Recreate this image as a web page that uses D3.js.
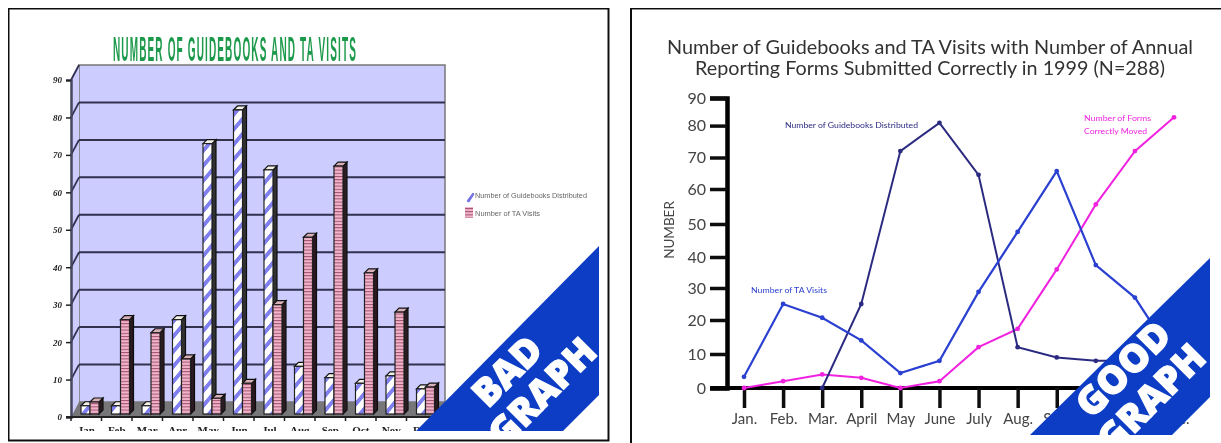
<!DOCTYPE html>
<html>
<head>
<meta charset="utf-8">
<script src="https://cdn.jsdelivr.net/npm/d3@7"></script>
<style>
  html, body { margin: 0; padding: 0; background: #fff; overflow: hidden; }
  svg { display: block; }
</style>
</head>
<body>
<div id="chart"></div>
<script>
// Data
const monthsShort = ['Jan', 'Feb', 'Mar', 'Apr', 'May', 'Jun', 'Jul', 'Aug', 'Sep', 'Oct', 'Nov', 'Dec'];
const monthsLong = ['Jan.', 'Feb.', 'Mar.', 'April', 'May', 'June', 'July', 'Aug.', 'Sep.', 'Oct.', 'Nov.', 'Dec.'];

const barGuidebooks = [3, 3, 3, 26, 73, 82, 66, 13.5, 10.5, 9, 11, 7.5];
const barVisits = [4, 26, 22.5, 15.5, 5, 9, 30, 48, 67, 38.5, 28, 8];

const lineGuidebooks = [null, null, 0, 25, 72, 81, 64.5, 12, 9, 8, 8, 8];
const lineVisits = [3.3, 25, 20.7, 14, 4.4, 8, 28.8, 47.6, 65.7, 37.4, 27, 9];
const lineForms = [0, 2, 4, 3, 0, 2, 12, 17.4, 36, 55.6, 72, 83];

const yTicks = [0, 10, 20, 30, 40, 50, 60, 70, 80, 90];

const blue = '#0a3cc4';
const navy = '#2c2a80';
const tablue = '#2a3fd0';
const magenta = '#f024e0';

const svg = d3.select('#chart').append('svg')
    .attr('width', 1221)
    .attr('height', 443);

const defs = svg.append('defs');

// The reference is a soft, upscaled image
defs.append('filter').attr('id', 'soft')
    .attr('x', 0).attr('y', 0)
    .attr('width', 1).attr('height', 1)
    .append('feGaussianBlur').attr('stdDeviation', 0.6);

const stripes = defs.append('pattern')
    .attr('id', 'stripeGuide')
    .attr('width', 6).attr('height', 15)
    .attr('patternUnits', 'userSpaceOnUse')
    .attr('patternTransform', 'skewY(-50)');
stripes.append('rect').attr('width', 6).attr('height', 15).attr('fill', '#fff');
stripes.append('rect').attr('width', 6).attr('height', 6).attr('fill', '#8080f0');

const bands = defs.append('pattern')
    .attr('id', 'stripeVisits')
    .attr('width', 6).attr('height', 3.2)
    .attr('patternUnits', 'userSpaceOnUse');
bands.append('rect').attr('width', 6).attr('height', 3.2).attr('fill', '#f0b4ca');
bands.append('rect').attr('width', 6).attr('height', 1).attr('fill', '#a0506c');

const root = svg.append('g').attr('filter', 'url(#soft)');

// Panel frames
root.append('rect')
    .attr('x', 8.5).attr('y', 8.5)
    .attr('width', 600).attr('height', 432)
    .attr('fill', '#fff').attr('stroke', '#111').attr('stroke-width', 2);
root.append('path')
    .attr('d', 'M631,443V8.5H1221')
    .attr('fill', 'none').attr('stroke', '#111').attr('stroke-width', 2);

function drawBadGraph() {
    const g = root.append('g');

    const x = d3.scaleBand().domain(monthsShort).range([71, 437]);
    const inner = d3.scaleBand().domain(['guide', 'visits']).range([10, 28]);
    const y = d3.scaleLinear().domain([0, 90]).range([417, 80]);
    const backX = 8, backY = -15;
    const depthX = 4, depthY = -4;

    g.append('text')
        .attr('x', 113).attr('y', 61)
        .attr('textLength', 244)
        .attr('lengthAdjust', 'spacingAndGlyphs')
        .attr('font-family', '"Liberation Sans Narrow", "Liberation Sans", sans-serif')
        .attr('font-weight', 700)
        .attr('font-size', 35)
        .attr('letter-spacing', 4)
        .attr('fill', '#1f9a4c')
        .text('NUMBER OF GUIDEBOOKS AND TA VISITS');

    // Back wall, side wall, floor
    g.append('rect')
        .attr('x', x.range()[0] + backX).attr('y', y(90) + backY)
        .attr('width', 445 - x.range()[0] - backX)
        .attr('height', y(0) - y(90))
        .attr('fill', '#ccccff').attr('stroke', '#777').attr('stroke-width', 1.5);
    g.append('polygon')
        .attr('points', [[71, y(90)], [71 + backX, y(90) + backY], [71 + backX, y(0) + backY], [71, y(0)]].join(' '))
        .attr('fill', '#ccccff');
    g.append('polygon')
        .attr('points', [[71, y(0)], [71 + backX, y(0) + backY], [445, y(0) + backY], [437, y(0)]].join(' '))
        .attr('fill', '#77777a');

    // Gridlines on the wall with the short diagonals on the side
    yTicks.slice(1, 9).forEach(t => {
        g.append('line')
            .attr('x1', 71 + backX).attr('x2', 445)
            .attr('y1', y(t) + backY).attr('y2', y(t) + backY)
            .attr('stroke', '#303050').attr('stroke-width', 2);
    });
    yTicks.slice(1).forEach(t => {
        g.append('line')
            .attr('x1', 71).attr('x2', 71 + backX)
            .attr('y1', y(t)).attr('y2', y(t) + backY)
            .attr('stroke', '#303050').attr('stroke-width', 1.8);
    });

    // 3D bars
    function drawBars(values, key, faceFill, sideFill) {
        const w = inner.bandwidth();
        monthsShort.forEach((m, i) => {
            const x0 = x(m) + inner(key);
            const yTop = y(values[i]);
            const yBase = y(0) - 3;
            g.append('polygon')
                .attr('points', [[x0 + w, yTop], [x0 + w + depthX, yTop + depthY], [x0 + w + depthX, yBase + depthY], [x0 + w, yBase]].join(' '))
                .attr('fill', sideFill).attr('stroke', '#111').attr('stroke-width', 1.2);
            g.append('polygon')
                .attr('points', [[x0, yTop], [x0 + depthX, yTop + depthY], [x0 + w + depthX, yTop + depthY], [x0 + w, yTop]].join(' '))
                .attr('fill', key === 'guide' ? '#f4f2e8' : '#d8b0b8')
                .attr('stroke', '#111').attr('stroke-width', 1.2);
            g.append('rect')
                .attr('x', x0).attr('y', yTop)
                .attr('width', w).attr('height', yBase - yTop)
                .attr('fill', faceFill)
                .attr('stroke', '#222').attr('stroke-width', 1.2);
        });
    }
    drawBars(barGuidebooks, 'guide', 'url(#stripeGuide)', '#333');
    drawBars(barVisits, 'visits', 'url(#stripeVisits)', '#2a1a20');

    // Axes
    const yAxis = d3.axisLeft(y).tickValues(yTicks).tickSize(5).tickFormat(d => d);
    const gy = g.append('g').attr('transform', 'translate(71,0)').call(yAxis);
    gy.select('.domain').attr('stroke', '#44465e').attr('stroke-width', 2.5);
    gy.selectAll('.tick line').attr('stroke', '#222').attr('stroke-width', 1.5);
    gy.selectAll('.tick text')
        .attr('x', -9)
        .attr('font-family', '"Liberation Serif", serif')
        .attr('font-weight', 700).attr('font-style', 'italic')
        .attr('font-size', 9).attr('fill', '#222');

    g.append('line')
        .attr('x1', 66).attr('x2', 437).attr('y1', y(0)).attr('y2', y(0))
        .attr('stroke', '#222').attr('stroke-width', 2);
    monthsShort.forEach(m => {
        g.append('line')
            .attr('x1', x(m) + x.bandwidth()).attr('x2', x(m) + x.bandwidth())
            .attr('y1', y(0)).attr('y2', y(0) + 4)
            .attr('stroke', '#222').attr('stroke-width', 1.5);
    });
    g.append('line')
        .attr('x1', 71).attr('x2', 71)
        .attr('y1', y(0)).attr('y2', y(0) + 4)
        .attr('stroke', '#222').attr('stroke-width', 1.5);

    // Month labels are cut off by the edge of the image
    defs.append('clipPath').attr('id', 'labelClip')
        .append('rect').attr('x', 60).attr('y', 420).attr('width', 400).attr('height', 11);
    g.append('g').attr('clip-path', 'url(#labelClip)')
        .selectAll('text').data(monthsShort).enter().append('text')
        .attr('x', d => x(d) + x.bandwidth() / 2)
        .attr('y', 434)
        .attr('text-anchor', 'middle')
        .attr('font-family', '"Liberation Serif", serif')
        .attr('font-weight', 700)
        .attr('font-size', 11)
        .attr('fill', '#222')
        .text(d => d);

    // Legend
    g.append('path').attr('d', 'M467,201L473,193L474,194L469,202Z')
        .attr('fill', '#7070e8').attr('stroke', '#7070e8');
    g.append('rect').attr('x', 465).attr('y', 207)
        .attr('width', 8).attr('height', 11)
        .attr('fill', 'url(#stripeVisits)');
    [['Number of Guidebooks Distributed', 195, 112], ['Number of TA Visits', 213, 65]].forEach(d => {
        g.append('text')
            .attr('x', 475).attr('y', d[1] + 2.5)
            .attr('textLength', d[2])
            .attr('lengthAdjust', 'spacingAndGlyphs')
            .attr('font-family', '"Liberation Sans", sans-serif')
            .attr('font-size', 7)
            .attr('fill', '#666')
            .text(d[0]);
    });
}

function drawGoodGraph() {
    const g = root.append('g');

    const x = d3.scalePoint().domain(monthsLong).range([744, 1174]);
    // The hand drawn axis is not quite even, so the scale has a stop per tick
    const y = d3.scaleLinear()
        .domain(yTicks)
        .range([388, 354, 320, 288, 257, 224, 189, 157.5, 125.6, 98]);

    const font = 'Lato, "Open Sans", sans-serif';

    [
        ['Number of Guidebooks and TA Visits with Number of Annual', 667, 54, 526],
        ['Reporting Forms Submitted Correctly in 1999 (N=288)', 695, 75, 470]
    ].forEach(d => {
        g.append('text')
            .attr('x', d[1]).attr('y', d[2])
            .attr('textLength', d[3])
            .attr('lengthAdjust', 'spacingAndGlyphs')
            .attr('font-family', font)
            .attr('font-size', 19.5)
            .attr('fill', '#333')
            .text(d[0]);
    });

    g.append('text')
        .attr('transform', 'translate(674,230) rotate(-90)')
        .attr('text-anchor', 'middle')
        .attr('font-family', font)
        .attr('font-size', 13.5)
        .attr('fill', '#444')
        .text('NUMBER');

    // Axes
    const yAxis = d3.axisLeft(y).tickValues(yTicks).tickSize(17).tickFormat(d => d);
    const gy = g.append('g').attr('transform', 'translate(727,0)').call(yAxis);
    gy.select('.domain').attr('stroke', '#000').attr('stroke-width', 4.5);
    gy.selectAll('.tick line').attr('stroke', '#111').attr('stroke-width', 3.5);
    gy.selectAll('.tick text')
        .attr('x', -21)
        .attr('font-family', font)
        .attr('font-size', 16)
        .attr('fill', '#444');

    const xAxis = d3.axisBottom(x).tickSize(20).tickSizeOuter(0).tickPadding(5);
    const gx = g.append('g').attr('transform', `translate(0,${y(0)})`).call(xAxis);
    gx.select('.domain').attr('d', 'M710,0H1190').attr('stroke', '#000').attr('stroke-width', 4);
    gx.selectAll('.tick line').attr('stroke', '#111').attr('stroke-width', 3.5);
    gx.selectAll('.tick text')
        .attr('font-family', font)
        .attr('font-size', 15)
        .attr('fill', '#444');

    const line = d3.line()
        .defined(d => d.v !== null)
        .x(d => x(d.m))
        .y(d => y(d.v));

    const series = [
        { values: lineForms, color: magenta, width: 2 },
        { values: lineGuidebooks, color: navy, width: 2 },
        { values: lineVisits, color: tablue, width: 2.2 }
    ];
    series.forEach(s => {
        const pts = monthsLong.map((m, i) => ({ m, v: s.values[i] }));
        g.append('path')
            .datum(pts)
            .attr('d', line)
            .attr('fill', 'none')
            .attr('stroke', s.color)
            .attr('stroke-width', s.width);
        g.selectAll(null)
            .data(pts.filter(d => d.v !== null))
            .enter().append('circle')
            .attr('cx', d => x(d.m))
            .attr('cy', d => y(d.v))
            .attr('r', 2.4)
            .attr('fill', s.color);
    });

    // Direct labels
    [
        ['Number of Guidebooks Distributed', 785, 128, 133, navy],
        ['Number of TA Visits', 751, 293, 76, tablue],
        ['Number of Forms', 1084, 121, 67, magenta],
        ['Correctly Moved', 1084, 134, 63, magenta]
    ].forEach(d => {
        g.append('text')
            .attr('x', d[1]).attr('y', d[2])
            .attr('textLength', d[3])
            .attr('lengthAdjust', 'spacingAndGlyphs')
            .attr('font-family', font)
            .attr('font-size', 8)
            .attr('fill', d[4])
            .text(d[0]);
    });
}

// Corner banner with its two words, cut off by the edge of the image
function drawBanner(id, corners, word1, word1At, word2, word2At) {
    defs.append('clipPath').attr('id', id)
        .append('polygon').attr('points', corners.join(' '));
    root.append('polygon')
        .attr('points', corners.join(' '))
        .attr('fill', blue);
    const t = root.append('g').attr('clip-path', `url(#${id})`);
    [[word1, word1At], [word2, word2At]].forEach(d => {
        t.append('text')
            .attr('transform', `translate(${d[1][0]},${d[1][1]}) rotate(-45)`)
            .attr('text-anchor', 'middle')
            .attr('dominant-baseline', 'central')
            .attr('font-family', '"Open Sans", "Liberation Sans", sans-serif')
            .attr('font-weight', 800)
            .attr('font-size', 38)
            .attr('fill', '#fff')
            .attr('stroke', '#fff')
            .attr('stroke-width', 1.2)
            .text(d[0]);
    });
}

drawBadGraph();
drawGoodGraph();
drawBanner('bannerBad', [[416, 431], [599, 246], [599, 395], [563, 431]],
    'BAD', [506, 370], 'GRAPH', [541, 391]);
drawBanner('bannerGood', [[1030, 435], [1210, 258], [1210, 397], [1172, 435]],
    'GOOD', [1122, 368], 'GRAPH', [1150, 397]);
</script>
</body>
</html>
